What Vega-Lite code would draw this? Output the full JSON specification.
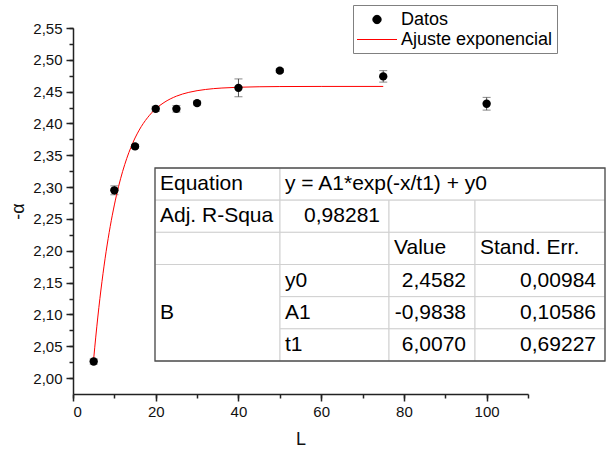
{
  "$schema": "https://vega.github.io/schema/vega-lite/v6.json",
  "width": 455,
  "height": 366,
  "autosize": "none",
  "padding": {"left": 73, "top": 28, "right": 80, "bottom": 59},
  "config": {
    "font": "Liberation Sans",
    "view": {"stroke": null},
    "locale": {"number": {"decimal": ",", "thousands": ".", "grouping": [3], "currency": ["", " €"]}},
    "legend": {
      "title": null, "orient": "none", "legendX": 280, "legendY": -23, "padding": 4,
      "strokeColor": "#808080", "fillColor": "#ffffff", "labelFontSize": 18, "labelColor": "#000000",
      "labelLimit": 400, "symbolSize": 400, "symbolStrokeWidth": 1, "labelOffset": 23, "rowPadding": 0
    }
  },
  "datasets": {
    "pts": [
      {"L": 5, "alpha": 2.026, "err": 0.004},
      {"L": 10, "alpha": 2.295, "err": 0.007},
      {"L": 15, "alpha": 2.364, "err": 0.003},
      {"L": 20, "alpha": 2.423, "err": 0.004},
      {"L": 25, "alpha": 2.423, "err": 0.005},
      {"L": 30, "alpha": 2.432, "err": 0.003},
      {"L": 40, "alpha": 2.456, "err": 0.014},
      {"L": 50, "alpha": 2.483, "err": 0.003},
      {"L": 75, "alpha": 2.474, "err": 0.009},
      {"L": 100, "alpha": 2.431, "err": 0.010}
    ],
    "fit": [
      {"L": 5, "alpha": 2.0302}, {"L": 5.5, "alpha": 2.0644}, {"L": 6, "alpha": 2.0959},
      {"L": 6.5, "alpha": 2.1248}, {"L": 7, "alpha": 2.1514}, {"L": 7.5, "alpha": 2.1759},
      {"L": 8, "alpha": 2.1985}, {"L": 9, "alpha": 2.2383}, {"L": 10, "alpha": 2.2720},
      {"L": 11, "alpha": 2.3006}, {"L": 12, "alpha": 2.3247}, {"L": 13, "alpha": 2.3452},
      {"L": 14, "alpha": 2.3625}, {"L": 15, "alpha": 2.3772}, {"L": 16, "alpha": 2.3896},
      {"L": 18, "alpha": 2.4090}, {"L": 20, "alpha": 2.4230}, {"L": 22, "alpha": 2.4329},
      {"L": 25, "alpha": 2.4429}, {"L": 28, "alpha": 2.4489}, {"L": 32, "alpha": 2.4534},
      {"L": 36, "alpha": 2.4557}, {"L": 40, "alpha": 2.4569}, {"L": 45, "alpha": 2.4577},
      {"L": 50, "alpha": 2.4580}, {"L": 60, "alpha": 2.4582}, {"L": 75, "alpha": 2.4582}
    ],
    "tabla": [
      {"c0": 0, "c1": 1, "r0": 0, "r1": 1, "texto": "Equation", "tipo": "etiqueta"},
      {"c0": 1, "c1": 4, "r0": 0, "r1": 1, "texto": "y = A1*exp(-x/t1) + y0", "tipo": "etiqueta"},
      {"c0": 0, "c1": 1, "r0": 1, "r1": 2, "texto": "Adj. R-Squa", "tipo": "etiqueta"},
      {"c0": 1, "c1": 2, "r0": 1, "r1": 2, "texto": "0,98281", "tipo": "numero"},
      {"c0": 2, "c1": 3, "r0": 1, "r1": 2, "texto": "", "tipo": "etiqueta"},
      {"c0": 3, "c1": 4, "r0": 1, "r1": 2, "texto": "", "tipo": "etiqueta"},
      {"c0": 0, "c1": 1, "r0": 2, "r1": 3, "texto": "", "tipo": "etiqueta"},
      {"c0": 1, "c1": 2, "r0": 2, "r1": 3, "texto": "", "tipo": "etiqueta"},
      {"c0": 2, "c1": 3, "r0": 2, "r1": 3, "texto": "Value", "tipo": "etiqueta"},
      {"c0": 3, "c1": 4, "r0": 2, "r1": 3, "texto": "Stand. Err.", "tipo": "etiqueta"},
      {"c0": 0, "c1": 1, "r0": 3, "r1": 6, "texto": "B", "tipo": "etiqueta"},
      {"c0": 1, "c1": 2, "r0": 3, "r1": 4, "texto": "y0", "tipo": "etiqueta"},
      {"c0": 2, "c1": 3, "r0": 3, "r1": 4, "texto": "2,4582", "tipo": "numero"},
      {"c0": 3, "c1": 4, "r0": 3, "r1": 4, "texto": "0,00984", "tipo": "numero"},
      {"c0": 1, "c1": 2, "r0": 4, "r1": 5, "texto": "A1", "tipo": "etiqueta"},
      {"c0": 2, "c1": 3, "r0": 4, "r1": 5, "texto": "-0,9838", "tipo": "numero"},
      {"c0": 3, "c1": 4, "r0": 4, "r1": 5, "texto": "0,10586", "tipo": "numero"},
      {"c0": 1, "c1": 2, "r0": 5, "r1": 6, "texto": "t1", "tipo": "etiqueta"},
      {"c0": 2, "c1": 3, "r0": 5, "r1": 6, "texto": "6,0070", "tipo": "numero"},
      {"c0": 3, "c1": 4, "r0": 5, "r1": 6, "texto": "0,69227", "tipo": "numero"}
    ]
  },
  "layer": [
    {
      "layer": [
        {
          "data": {"name": "pts"},
          "mark": {"type": "errorbar", "color": "#555555", "thickness": 1, "ticks": {"size": 8, "color": "#555555"}},
          "encoding": {
            "x": {"field": "L", "type": "quantitative", "scale": {"domain": [0, 110], "nice": false, "zero": false}, "axis": null},
            "y": {"field": "alpha", "type": "quantitative", "scale": {"domain": [1.975, 2.55], "nice": false, "zero": false}, "axis": null},
            "yError": {"field": "err"}
          }
        },
        {
          "data": {"name": "fit"},
          "mark": {"type": "line", "strokeWidth": 1, "interpolate": "monotone"},
          "encoding": {
            "x": {"field": "L", "type": "quantitative", "scale": {"domain": [0, 110], "nice": false, "zero": false},
              "axis": {"orient": "bottom", "values": [0, 10, 20, 30, 40, 50, 60, 70, 80, 90, 100, 110], "labels": false, "domain": false, "grid": false, "tickSize": 4, "tickWidth": 1.5, "tickColor": "#222222", "title": null}},
            "y": {"field": "alpha", "type": "quantitative", "scale": {"domain": [1.975, 2.55], "nice": false, "zero": false},
              "axis": {"orient": "left", "values": [2.0, 2.025, 2.05, 2.075, 2.1, 2.125, 2.15, 2.175, 2.2, 2.225, 2.25, 2.275, 2.3, 2.325, 2.35, 2.375, 2.4, 2.425, 2.45, 2.475, 2.5, 2.525, 2.55], "labels": false, "domain": false, "grid": false, "tickSize": 4, "tickWidth": 1.5, "tickColor": "#222222", "title": null}},
            "color": {"datum": "Ajuste exponencial", "type": "nominal",
              "scale": {"domain": ["Datos", "Ajuste exponencial"], "range": ["#000000", "#ff0000"]},
              "legend": {
                "encode": {"symbols": {"update": {
                  "shape": {"signal": "datum.value === 'Datos' ? 'circle' : 'M-2,0L2,0'"},
                  "size": {"signal": "datum.value === 'Datos' ? 70 : 400"},
                  "x": {"value": 20},
                  "fill": {"signal": "datum.value === 'Datos' ? '#000000' : 'transparent'"},
                  "stroke": {"signal": "datum.value === 'Datos' ? 'transparent' : '#ff0000'"},
                  "strokeWidth": {"value": 1},
                  "opacity": {"value": 1}
                }}}}
            }
          }
        },
        {
          "data": {"name": "pts"},
          "mark": {"type": "point", "filled": true, "opacity": 1, "size": 70},
          "encoding": {
            "x": {"field": "L", "type": "quantitative", "scale": {"domain": [0, 110], "nice": false, "zero": false},
              "axis": {"orient": "bottom", "values": [0, 20, 40, 60, 80, 100], "grid": false, "tickSize": 7, "tickWidth": 1.5, "tickColor": "#222222", "domainColor": "#222222", "domainWidth": 1.5, "labelFontSize": 15, "labelColor": "#111111", "labelPadding": 3, "title": "L", "titleFontSize": 18, "titleFontWeight": "normal", "titleColor": "#111111", "titlePadding": 11}},
            "y": {"field": "alpha", "type": "quantitative", "scale": {"domain": [1.975, 2.55], "nice": false, "zero": false},
              "axis": {"orient": "left", "values": [2.0, 2.05, 2.1, 2.15, 2.2, 2.25, 2.3, 2.35, 2.4, 2.45, 2.5, 2.55], "format": ".2f", "grid": false, "tickSize": 7, "tickWidth": 1.5, "tickColor": "#222222", "domainColor": "#222222", "domainWidth": 1.5, "labelFontSize": 15, "labelColor": "#111111", "labelPadding": 4, "title": "-α", "titleFontSize": 18, "titleFontWeight": "normal", "titleColor": "#111111", "titlePadding": 5}},
            "color": {"datum": "Datos", "type": "nominal",
              "legend": {
                "encode": {"symbols": {"update": {
                  "shape": {"signal": "datum.value === 'Datos' ? 'circle' : 'M-2,0L2,0'"},
                  "size": {"signal": "datum.value === 'Datos' ? 70 : 400"},
                  "x": {"value": 20},
                  "fill": {"signal": "datum.value === 'Datos' ? '#000000' : 'transparent'"},
                  "stroke": {"signal": "datum.value === 'Datos' ? 'transparent' : '#ff0000'"},
                  "strokeWidth": {"value": 1},
                  "opacity": {"value": 1}
                }}}}
            }
          }
        }
      ],
      "resolve": {"axis": {"x": "independent", "y": "independent"}}
    },
    {
      "layer": [
        {
          "data": {"name": "tabla"},
          "mark": {"type": "rect", "fill": "#ffffff", "stroke": "#d0d0d0", "strokeWidth": 1},
          "encoding": {
            "x": {"field": "c0", "type": "quantitative", "scale": {"domain": [0, 1, 2, 3, 4], "range": [82, 207, 316, 402, 532], "nice": false, "zero": false}, "axis": null},
            "x2": {"field": "c1"},
            "y": {"field": "r0", "type": "quantitative", "scale": {"domain": [0, 6], "range": [140, 333], "nice": false, "zero": false}, "axis": null},
            "y2": {"field": "r1"}
          }
        },
        {
          "data": {"values": [{"c0": 0, "c1": 4, "r0": 0, "r1": 6}]},
          "mark": {"type": "rect", "fill": null, "fillOpacity": 0, "stroke": "#505050", "strokeWidth": 1.3},
          "encoding": {
            "x": {"field": "c0", "type": "quantitative", "axis": null},
            "x2": {"field": "c1"},
            "y": {"field": "r0", "type": "quantitative", "axis": null},
            "y2": {"field": "r1"}
          }
        },
        {
          "data": {"name": "tabla"},
          "transform": [{"filter": "datum.tipo === 'etiqueta'"}, {"calculate": "(datum.r0 + datum.r1) / 2", "as": "rm"}],
          "mark": {"type": "text", "align": "left", "baseline": "middle", "dx": 5, "fontSize": 21, "color": "#000000"},
          "encoding": {
            "x": {"field": "c0", "type": "quantitative", "axis": null},
            "y": {"field": "rm", "type": "quantitative", "axis": null},
            "text": {"field": "texto"}
          }
        },
        {
          "data": {"name": "tabla"},
          "transform": [{"filter": "datum.tipo === 'numero'"}, {"calculate": "(datum.r0 + datum.r1) / 2", "as": "rm"}],
          "mark": {"type": "text", "align": "right", "baseline": "middle", "dx": -9, "fontSize": 21, "color": "#000000"},
          "encoding": {
            "x": {"field": "c1", "type": "quantitative", "axis": null},
            "y": {"field": "rm", "type": "quantitative", "axis": null},
            "text": {"field": "texto"}
          }
        }
      ]
    }
  ],
  "resolve": {"scale": {"x": "independent", "y": "independent"}}
}
